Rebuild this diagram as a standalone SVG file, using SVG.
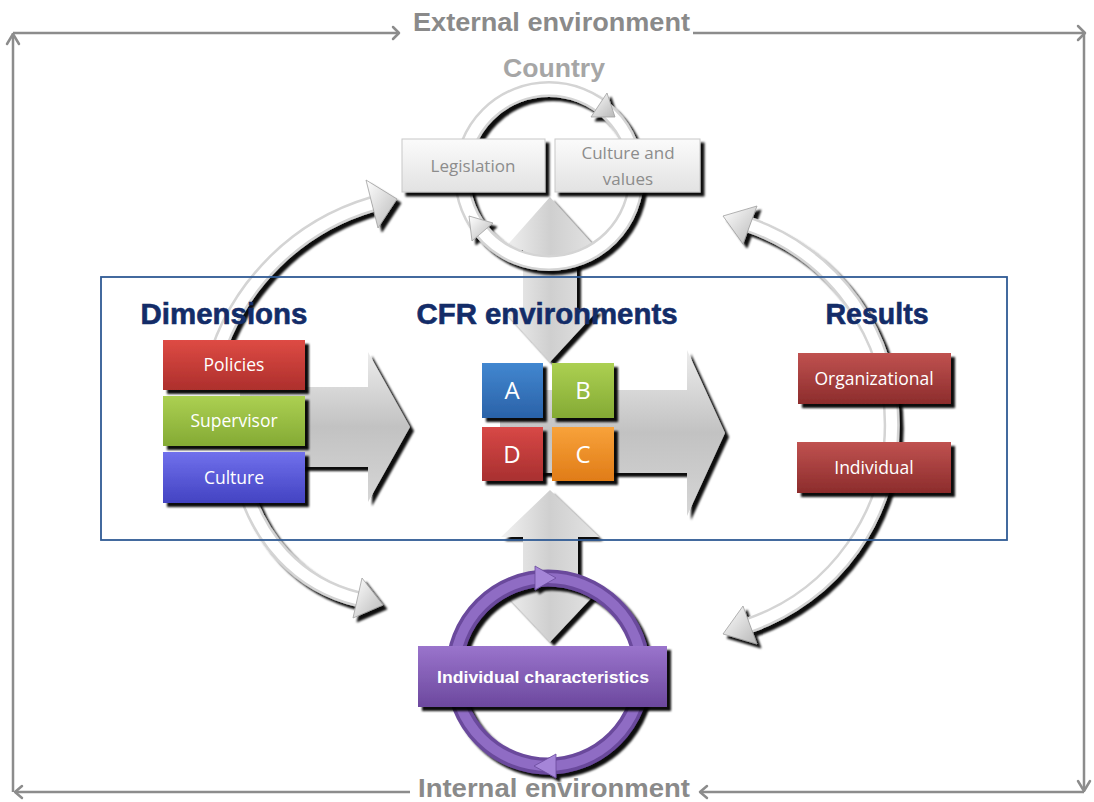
<svg xmlns="http://www.w3.org/2000/svg" width="1094" height="802" viewBox="0 0 1094 802">
<defs>
<style>
.frame{fill:none;stroke:#8c8c8c;stroke-width:2.5}
.chev{fill:none;stroke:#8c8c8c;stroke-width:2.5;stroke-linecap:round;stroke-linejoin:round}
.env{font-family:"Liberation Sans",Arial,sans-serif;font-weight:bold;font-size:25px;fill:#8a8a8a}
.head{font-family:"Liberation Sans",Arial,sans-serif;font-weight:bold;font-size:29px;fill:#132c68;text-anchor:middle;stroke:#132c68;stroke-width:0.6}
.lbl{font-family:"Open Sans","Liberation Sans",Arial,sans-serif;font-size:17.5px;fill:#ffffff;text-anchor:middle}
.glbl{font-family:"Open Sans","Liberation Sans",Arial,sans-serif;font-size:17px;fill:#8c8c8c;text-anchor:middle}
.big{font-family:"Open Sans","Liberation Sans",Arial,sans-serif;font-size:24px;fill:#ffffff;text-anchor:middle}
.band{fill:none;stroke:#d4d4d4;stroke-width:16}
.bandi{fill:none;stroke:#ffffff;stroke-width:11}
.ah{fill:url(#gHead);stroke:#a0a0a0;stroke-width:0.8}
</style>
<filter id="sh" x="-20%" y="-20%" width="150%" height="150%">
<feDropShadow dx="4" dy="4" stdDeviation="1.2" flood-color="#000" flood-opacity="0.95"/>
</filter>
<filter id="shs" x="-20%" y="-20%" width="150%" height="150%">
<feDropShadow dx="4" dy="4" stdDeviation="1" flood-color="#000" flood-opacity="0.95"/>
</filter>
<linearGradient id="gArrowH" x1="0" y1="0" x2="0" y2="1">
<stop offset="0" stop-color="#ececec"/><stop offset="0.5" stop-color="#c2c2c2"/><stop offset="1" stop-color="#d6d6d6"/>
</linearGradient>
<linearGradient id="gArrowV" x1="0" y1="0" x2="1" y2="0">
<stop offset="0" stop-color="#f2f2f2"/><stop offset="0.5" stop-color="#cfcfcf"/><stop offset="1" stop-color="#e4e4e4"/>
</linearGradient>
<linearGradient id="gHead" x1="0" y1="0" x2="1" y2="1">
<stop offset="0" stop-color="#ffffff"/><stop offset="1" stop-color="#b8b8b8"/>
</linearGradient>
<linearGradient id="gWhite" x1="0" y1="0" x2="0" y2="1">
<stop offset="0" stop-color="#fbfbfb"/><stop offset="1" stop-color="#e2e2e2"/>
</linearGradient>
<linearGradient id="gRed" x1="0" y1="0" x2="0" y2="1">
<stop offset="0" stop-color="#de4b44"/><stop offset="1" stop-color="#ad2f2c"/>
</linearGradient>
<linearGradient id="gGreen" x1="0" y1="0" x2="0" y2="1">
<stop offset="0" stop-color="#acd052"/><stop offset="1" stop-color="#84aa34"/>
</linearGradient>
<linearGradient id="gBlue" x1="0" y1="0" x2="0" y2="1">
<stop offset="0" stop-color="#7070ec"/><stop offset="1" stop-color="#4343c2"/>
</linearGradient>
<linearGradient id="gA" x1="0" y1="0" x2="0" y2="1">
<stop offset="0" stop-color="#4287d0"/><stop offset="1" stop-color="#2a62a8"/>
</linearGradient>
<linearGradient id="gD" x1="0" y1="0" x2="0" y2="1">
<stop offset="0" stop-color="#d84846"/><stop offset="1" stop-color="#a83030"/>
</linearGradient>
<linearGradient id="gC" x1="0" y1="0" x2="0" y2="1">
<stop offset="0" stop-color="#f8a23a"/><stop offset="1" stop-color="#e07c18"/>
</linearGradient>
<linearGradient id="gRes" x1="0" y1="0" x2="0" y2="1">
<stop offset="0" stop-color="#c05250"/><stop offset="1" stop-color="#8c2c2c"/>
</linearGradient>
<linearGradient id="gPurple" x1="0" y1="0" x2="0" y2="1">
<stop offset="0" stop-color="#9a74cc"/><stop offset="1" stop-color="#6c489e"/>
</linearGradient>
</defs>

<!-- outer environment frame -->
<g id="frame">
<line class="frame" x1="13" y1="33" x2="13" y2="792"/>
<line class="frame" x1="13" y1="33" x2="399" y2="33"/>
<line class="frame" x1="693" y1="33" x2="1085" y2="33"/>
<line class="frame" x1="1084" y1="33" x2="1084" y2="791"/>
<line class="frame" x1="15" y1="792" x2="410" y2="792"/>
<line class="frame" x1="700" y1="792" x2="1084" y2="792"/>
<polyline class="chev" points="7,44 13,34 19,44"/>
<polyline class="chev" points="393,27 399,33 393,39"/>
<polyline class="chev" points="1078,26 1085,33 1078,40"/>
<polyline class="chev" points="1078,781 1084,791 1090,781"/>
<polyline class="chev" points="22,786 15,792 22,798"/>
<polyline class="chev" points="707,786 700,792 707,798"/>
<text class="env" x="413" y="31" textLength="277" lengthAdjust="spacingAndGlyphs">External environment</text>
<text class="env" x="418" y="797" textLength="272" lengthAdjust="spacingAndGlyphs">Internal environment</text>
</g>

<!-- connectors: big arrows, arcs and rings -->
<g id="connectors">
<path filter="url(#sh)" fill="url(#gArrowH)" d="M 240 387 H 368 V 352 L 410 427 L 368 502 V 467 H 240 Z"/>
<path filter="url(#sh)" fill="url(#gArrowH)" d="M 500 390 H 687 V 350 L 725 433 L 687 516 V 473 H 500 Z"/>
<path filter="url(#sh)" fill="url(#gArrowV)" d="M 550 197 L 598 250 H 577 V 310 H 598 L 550 362 L 503 310 H 523 V 250 H 503 Z"/>
<path filter="url(#sh)" fill="url(#gArrowV)" d="M 550 490 L 599 537 H 578 V 592 H 597 L 550 642 L 503 592 H 523 V 537 H 501 Z"/>

<!-- country ring -->
<g filter="url(#shs)">
<circle class="band" cx="549" cy="176" r="87"/>
<circle class="bandi" cx="549" cy="176" r="87"/>
<polygon class="ah" points="607,93 591,117 615,117"/>
<polygon class="ah" points="472,241 493,223 469,216"/>
</g>

<!-- left arcs -->
<g filter="url(#shs)">
<path class="band" d="M 210 380 A 233 233 0 0 1 372 204"/>
<path class="bandi" d="M 210 380 A 233 233 0 0 1 372 204"/>
<polygon class="ah" points="366,180 378,228 397,199"/>
<path class="band" d="M 240 470 C 255 540 300 585 358 599"/>
<path class="bandi" d="M 240 470 C 255 540 300 585 358 599"/>
<polygon class="ah" points="362,578 353,618 383,605"/>
</g>

<!-- right arc -->
<g filter="url(#shs)">
<path class="band" d="M 750 225 A 212 212 0 0 1 750 625"/>
<path class="bandi" d="M 750 225 A 212 212 0 0 1 750 625"/>
<polygon class="ah" points="757,206 743,244 723,216"/>
<polygon class="ah" points="757,644 743,606 723,634"/>
</g>

<!-- individual characteristics ring -->
<g filter="url(#shs)">
<circle cx="548" cy="672" r="94" fill="none" stroke="#6a4a9c" stroke-width="17"/>
<circle cx="548" cy="672" r="94" fill="none" stroke="#8f6cc4" stroke-width="10"/>
<polygon points="535,566 535,590 556,578" fill="#a585d8" stroke="#6a4a9c" stroke-width="0.8"/>
<polygon points="556,754 556,778 534,766" fill="#a585d8" stroke="#6a4a9c" stroke-width="0.8"/>
</g>
</g>

<!-- country nodes -->
<g id="country">
<text x="554" y="77" text-anchor="middle" font-family="Liberation Sans, Arial, sans-serif" font-weight="bold" font-size="26" fill="#a6a6a6" textLength="102" lengthAdjust="spacingAndGlyphs">Country</text>
</g>
<g id="legislation">
<rect x="402" y="139" width="143" height="53" fill="url(#gWhite)" stroke="#c8c8c8" stroke-width="1" filter="url(#sh)"/>
<text class="glbl" x="473" y="172">Legislation</text>
</g>
<g id="culture-values">
<rect x="555" y="139" width="145" height="53" fill="url(#gWhite)" stroke="#c8c8c8" stroke-width="1" filter="url(#sh)"/>
<text class="glbl" x="628" y="159">Culture and</text>
<text class="glbl" x="628" y="185">values</text>
</g>

<!-- dimension nodes -->
<g id="policies">
<rect x="163" y="340" width="142" height="50" fill="url(#gRed)" filter="url(#sh)"/>
<text class="lbl" x="234" y="371">Policies</text>
</g>
<g id="supervisor">
<rect x="163" y="396" width="142" height="50" fill="url(#gGreen)" filter="url(#sh)"/>
<text class="lbl" x="234" y="427">Supervisor</text>
</g>
<g id="culture">
<rect x="163" y="452" width="142" height="51" fill="url(#gBlue)" filter="url(#sh)"/>
<text class="lbl" x="234" y="484">Culture</text>
</g>

<!-- CFR environment nodes -->
<g id="env-a">
<rect x="482" y="363" width="61" height="55" fill="url(#gA)" filter="url(#shs)"/>
<text class="big" x="512" y="399">A</text>
</g>
<g id="env-b">
<rect x="552" y="363" width="62" height="55" fill="url(#gGreen)" filter="url(#shs)"/>
<text class="big" x="583" y="399">B</text>
</g>
<g id="env-d">
<rect x="482" y="427" width="61" height="54" fill="url(#gD)" filter="url(#shs)"/>
<text class="big" x="512" y="463">D</text>
</g>
<g id="env-c">
<rect x="552" y="427" width="62" height="54" fill="url(#gC)" filter="url(#shs)"/>
<text class="big" x="583" y="463">C</text>
</g>

<!-- results nodes -->
<g id="organizational">
<rect x="798" y="353" width="153" height="51" fill="url(#gRes)" filter="url(#sh)"/>
<text class="lbl" x="874" y="385">Organizational</text>
</g>
<g id="individual">
<rect x="797" y="442" width="154" height="51" fill="url(#gRes)" filter="url(#sh)"/>
<text class="lbl" x="874" y="474">Individual</text>
</g>

<!-- individual characteristics node -->
<g id="individual-characteristics">
<rect x="418" y="646" width="249" height="61" fill="url(#gPurple)" filter="url(#sh)"/>
<text x="543" y="683" text-anchor="middle" font-family="Liberation Sans, Arial, sans-serif" font-weight="bold" font-size="16" fill="#ffffff" textLength="212" lengthAdjust="spacingAndGlyphs">Individual characteristics</text>
</g>

<!-- CFR frame and headings -->
<g id="cfr-frame">
<rect x="101" y="277" width="906" height="263" fill="none" stroke="#2f5a94" stroke-width="1.8"/>
<text class="head" x="224" y="324" textLength="167" lengthAdjust="spacingAndGlyphs">Dimensions</text>
<text class="head" x="547" y="324" textLength="261" lengthAdjust="spacingAndGlyphs">CFR environments</text>
<text class="head" x="877" y="324" textLength="103" lengthAdjust="spacingAndGlyphs">Results</text>
</g>
</svg>
